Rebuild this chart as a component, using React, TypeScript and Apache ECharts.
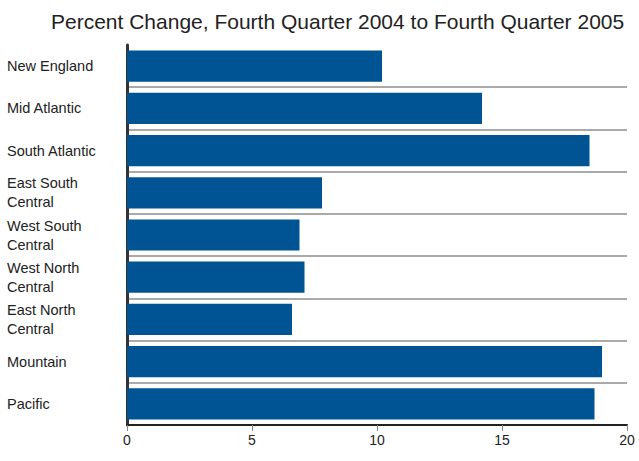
import React, { useEffect, useRef } from "react";
import * as echarts from "echarts";

const titleText = "Percent Change, Fourth Quarter 2004 to Fourth Quarter 2005";
const regions = [
  "New England",
  "Mid Atlantic",
  "South Atlantic",
  "East South\nCentral",
  "West South\nCentral",
  "West North\nCentral",
  "East North\nCentral",
  "Mountain",
  "Pacific",
];
const percentChange = [10.2, 14.2, 18.5, 7.8, 6.9, 7.1, 6.6, 19.0, 18.7];
const xTicks = { min: 0, max: 20, interval: 5 };

export default function App() {
  const ref = useRef<HTMLDivElement>(null);
  useEffect(() => {
    document.body.style.margin = "0";
    if (!ref.current) return;
    const chart = echarts.init(ref.current, null, { renderer: "svg" });
    chart.setOption({
      animation: false,
      title: {
        text: titleText,
        left: 46,
        top: 6,
        textStyle: {
          fontFamily: "Liberation Sans",
          fontSize: 21,
          fontWeight: "normal",
          color: "#222",
        },
      },
      grid: { left: 127, right: 12, top: 45, bottom: 36 },
      xAxis: {
        type: "value",
        min: xTicks.min,
        max: xTicks.max,
        interval: xTicks.interval,
        axisLine: { show: true, lineStyle: { color: "#222", width: 2 } },
        axisTick: { show: true, length: 6, lineStyle: { color: "#888", width: 1 } },
        axisLabel: {
          margin: 8,
          fontFamily: "Liberation Sans",
          fontSize: 14,
          color: "#222",
        },
        splitLine: { show: false },
      },
      yAxis: {
        type: "category",
        data: regions,
        inverse: true,
        axisLine: { show: true, lineStyle: { color: "#333", width: 3 } },
        axisTick: { show: false },
        axisLabel: {
          align: "left",
          margin: 120,
          fontFamily: "Liberation Sans",
          fontSize: 14.5,
          lineHeight: 19,
          color: "#222",
        },
        splitLine: {
          show: true,
          interval: (index: number) => index !== 0,
          lineStyle: { color: "#aaa", width: 2 },
        },
      },
      series: [
        {
          type: "bar",
          data: percentChange,
          barCategoryGap: "26%",
          itemStyle: { color: "#005493" },
        },
      ],
    });
    return () => chart.dispose();
  }, []);
  return <div ref={ref} style={{ width: 639, height: 461 }} />;
}
